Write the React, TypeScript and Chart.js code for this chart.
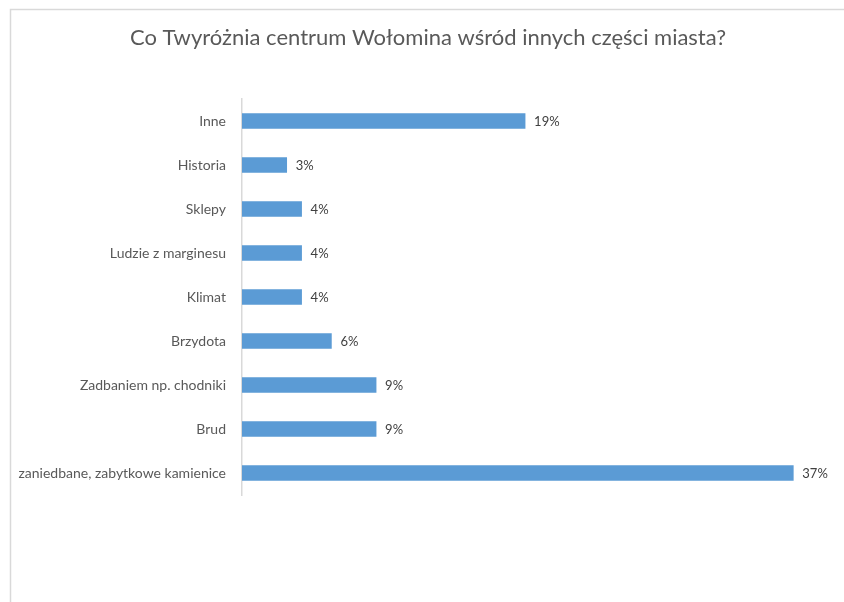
import React, { useEffect, useRef } from "react";
import { Chart, registerables } from "chart.js";

Chart.register(...registerables);

const TITLE = "Co Twyróżnia centrum Wołomina wśród innych części miasta?";
const categories = [
  "Inne",
  "Historia",
  "Sklepy",
  "Ludzie z marginesu",
  "Klimat",
  "Brzydota",
  "Zadbaniem np. chodniki",
  "Brud",
  "zaniedbane, zabytkowe kamienice",
];
const values = [19, 3, 4, 4, 4, 6, 9, 9, 37];

const FONT = "Lato, 'Open Sans', sans-serif";

const framePlugin = {
  id: "frame",
  beforeDraw(chart: any) {
    const ctx = chart.ctx;
    ctx.save();
    ctx.fillStyle = "#ffffff";
    ctx.fillRect(0, 0, chart.width, chart.height);
    ctx.strokeStyle = "#d9d9d9";
    ctx.lineWidth = 1.5;
    ctx.strokeRect(10.5, 9.5, 1000, 1000);
    ctx.restore();
  },
};

const valueLabels = {
  id: "valueLabels",
  afterDatasetsDraw(chart: any) {
    const ctx = chart.ctx;
    const meta = chart.getDatasetMeta(0);
    ctx.save();
    ctx.font = `13px ${FONT}`;
    ctx.fillStyle = "#404040";
    ctx.textAlign = "left";
    ctx.textBaseline = "middle";
    meta.data.forEach((bar: any, i: number) => {
      ctx.fillText(values[i] + "%", bar.x + 9, bar.y + 1);
    });
    ctx.restore();
  },
};

export default function App() {
  const ref = useRef<HTMLCanvasElement>(null);
  useEffect(() => {
    if (!ref.current) return;
    const chart = new Chart(ref.current, {
      type: "bar",
      data: {
        labels: categories,
        datasets: [
          {
            data: values,
            backgroundColor: "#5b9bd5",
            borderWidth: 0,
            barThickness: 15,
          },
        ],
      },
      options: {
        indexAxis: "y",
        animation: false,
        responsive: false,
        layout: { padding: { left: 18, right: 6, top: 0, bottom: 107 } },
        plugins: {
          legend: { display: false },
          tooltip: { enabled: false },
          title: {
            display: true,
            text: TITLE,
            color: "#595959",
            font: { family: FONT, size: 22, weight: "normal" },
            padding: { top: 25, bottom: 47.6 },
          },
        },
        scales: {
          x: {
            display: false,
            min: 0,
            max: 40,
          },
          y: {
            afterFit(scale: any) {
              scale.width = 224;
            },
            grid: { display: false, drawTicks: false },
            border: { display: true, color: "#d9d9d9", width: 1.5 },
            ticks: {
              color: "#595959",
              font: { family: FONT, size: 14 },
              padding: 16,
            },
          },
        },
      },
      plugins: [framePlugin, valueLabels],
    });
    return () => chart.destroy();
  }, []);
  return (
    <div style={{ position: "absolute", left: 0, top: 0, width: 844, height: 602 }}>
      <canvas ref={ref} width={844} height={602} style={{ width: 844, height: 602 }} />
    </div>
  );
}
